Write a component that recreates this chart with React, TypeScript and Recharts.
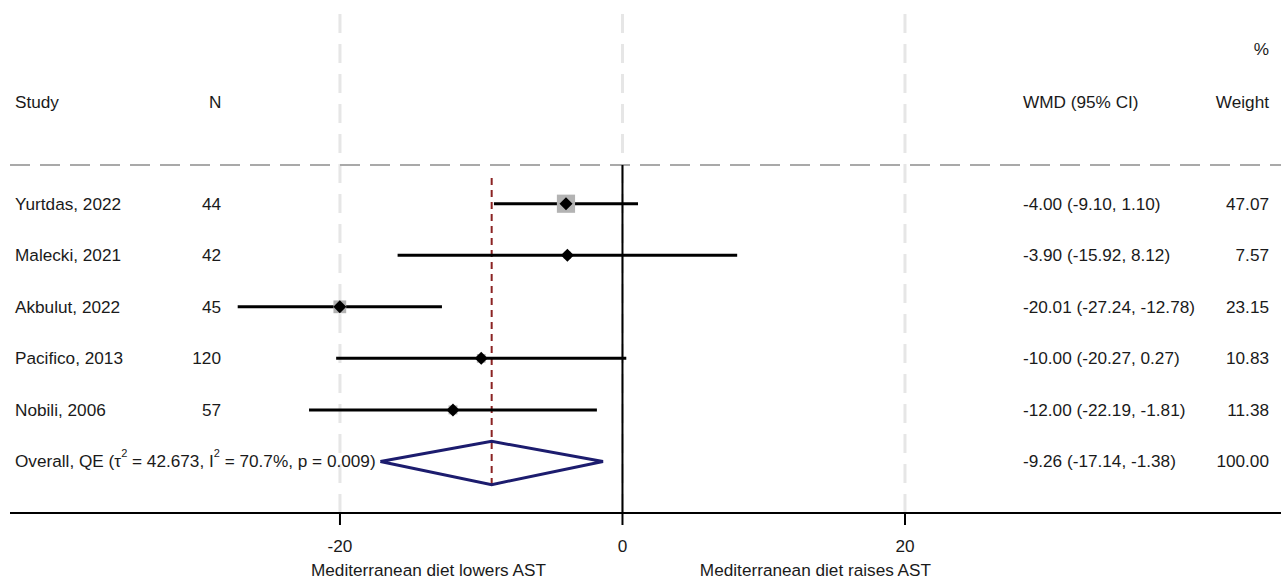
import { ComposedChart, Scatter, XAxis, YAxis, ReferenceLine, ErrorBar } from "recharts";

const studies = ["Yurtdas, 2022", "Malecki, 2021", "Akbulut, 2022", "Pacifico, 2013", "Nobili, 2006"];
const sampleSizes = [44, 42, 45, 120, 57];
const estimates = [-4.0, -3.9, -20.01, -10.0, -12.0];
const lowerCI = [-9.1, -15.92, -27.24, -20.27, -22.19];
const upperCI = [1.1, 8.12, -12.78, 0.27, -1.81];
const weights = [47.07, 7.57, 23.15, 10.83, 11.38];

const overallEstimate = -9.26;
const overallLower = -17.14;
const overallUpper = -1.38;
const overallWeight = 100;

const xTicks = [-20, 0, 20];
const X_DOMAIN: [number, number] = [-43.36, 46.62];
const Y_DOMAIN: [number, number] = [-3.7, 6];

const FONT = "'Liberation Sans', Arial, sans-serif";
const TXT = "#1a1a1a";
const FS = 17.2;

const overallRow = studies.length;

const studyRows = studies.map((s, i) => ({
  x: estimates[i],
  y: i,
  err: [estimates[i] - lowerCI[i], upperCI[i] - estimates[i]],
  w: weights[i],
}));

const fmt = (v: number) => v.toFixed(2);

const tableRows = [
  ...studies.map((s, i) => ({
    x: 0,
    y: i,
    study: s,
    n: String(sampleSizes[i]),
    wmd: `${fmt(estimates[i])} (${fmt(lowerCI[i])}, ${fmt(upperCI[i])})`,
    weight: fmt(weights[i]),
  })),
  {
    x: 0,
    y: overallRow,
    study: "",
    n: "",
    wmd: `${fmt(overallEstimate)} (${fmt(overallLower)}, ${fmt(overallUpper)})`,
    weight: fmt(overallWeight),
  },
];

const headerRows = [
  { x: 0, y: -3, study: "", n: "", wmd: "", weight: "%" },
  { x: 0, y: -1.98, study: "Study", n: "N", wmd: "WMD (95% CI)", weight: "Weight" },
];

const diamond = [
  { x: overallLower, y: overallRow },
  { x: overallEstimate, y: overallRow - 0.39 },
  { x: overallUpper, y: overallRow },
  { x: overallEstimate, y: overallRow + 0.45 },
  { x: overallLower, y: overallRow },
];

const StudyMarker = (props: any) => {
  const { cx, cy, payload } = props;
  const side = 2.65 * Math.sqrt(payload.w);
  const d = 6.5;
  return (
    <g>
      <rect x={cx - side / 2} y={cy - side / 2} width={side} height={side} fill="#b3b3b3" />
      <path d={`M${cx},${cy - d} L${cx + d},${cy} L${cx},${cy + d} L${cx - d},${cy} Z`} fill="#000" />
    </g>
  );
};

const textProps = { fontFamily: FONT, fontSize: FS, fill: TXT, dominantBaseline: "central" as const };

const TableText = (props: any) => {
  const { cy, payload } = props;
  const isHeaderN = payload.n === "N";
  return (
    <g>
      {payload.study && (
        <text x={15} y={cy} {...textProps}>
          {payload.study}
        </text>
      )}
      {payload.y === overallRow && (
        <text x={15} y={cy} {...textProps}>
          Overall, QE (τ
          <tspan dy={-8} fontSize={11}>2</tspan>
          <tspan dy={8}> = 42.673, I</tspan>
          <tspan dy={-8} fontSize={11}>2</tspan>
          <tspan dy={8}> = 70.7%, p = 0.009)</tspan>
        </text>
      )}
      {payload.n && (
        <text x={isHeaderN ? 209 : 221} y={cy} textAnchor={isHeaderN ? "start" : "end"} {...textProps}>
          {payload.n}
        </text>
      )}
      {payload.wmd && (
        <text x={1023} y={cy} {...textProps}>
          {payload.wmd}
        </text>
      )}
      {payload.weight && (
        <text x={1269} y={cy} textAnchor="end" {...textProps}>
          {payload.weight}
        </text>
      )}
    </g>
  );
};

const AxisTick = ({ x, y, payload }: any) => (
  <text x={x} y={y + 19} textAnchor="middle" {...textProps}>
    {payload.value}
  </text>
);

const AxisCaptions = ({ viewBox }: any) => {
  const { x, width } = viewBox;
  const zeroX = x + ((0 - X_DOMAIN[0]) / (X_DOMAIN[1] - X_DOMAIN[0])) * width;
  return (
    <g>
      <text x={zeroX - 194} y={570} textAnchor="middle" {...textProps}>
        Mediterranean diet lowers AST
      </text>
      <text x={zeroX + 193} y={570} textAnchor="middle" {...textProps}>
        Mediterranean diet raises AST
      </text>
    </g>
  );
};

export default function App() {
  return (
    <div style={{ position: "absolute", left: 0, top: 0, background: "#fff" }}>
      <ComposedChart width={1281} height={581} margin={{ top: 13, right: 0, left: 10, bottom: 0 }}>
        <XAxis
          type="number"
          dataKey="x"
          domain={X_DOMAIN}
          allowDataOverflow
          ticks={xTicks}
          height={68}
          axisLine={{ stroke: "#000", strokeWidth: 2 }}
          tickLine={{ stroke: "#000", strokeWidth: 2 }}
          tickSize={12}
          tick={<AxisTick />}
          label={{ content: <AxisCaptions /> }}
        />
        <YAxis type="number" dataKey="y" domain={Y_DOMAIN} reversed hide allowDataOverflow />

        {xTicks.map((t) => (
          <ReferenceLine key={t} x={t} stroke="#e6e6e6" strokeWidth={3} strokeDasharray="19 11" />
        ))}
        <ReferenceLine y={-0.75} stroke="#a9a9a9" strokeWidth={2} strokeDasharray="20 10" />
        <ReferenceLine
          segment={[
            { x: 0, y: -0.75 },
            { x: 0, y: 6 },
          ]}
          stroke="#000"
          strokeWidth={2}
        />
        <ReferenceLine
          segment={[
            { x: overallEstimate, y: -0.5 },
            { x: overallEstimate, y: 5.45 },
          ]}
          stroke="#8b2323"
          strokeWidth={2}
          strokeDasharray="7 5"
        />

        <Scatter data={studyRows} shape={<StudyMarker />} isAnimationActive={false}>
          <ErrorBar dataKey="err" direction="x" width={0} stroke="#000" strokeWidth={3} />
        </Scatter>

        <Scatter
          data={diamond}
          line={{ stroke: "#1c1c6e", strokeWidth: 3 }}
          shape={() => <g />}
          isAnimationActive={false}
        />

        <Scatter data={headerRows} shape={<TableText />} isAnimationActive={false} />
        <Scatter data={tableRows} shape={<TableText />} isAnimationActive={false} />
      </ComposedChart>
    </div>
  );
}
